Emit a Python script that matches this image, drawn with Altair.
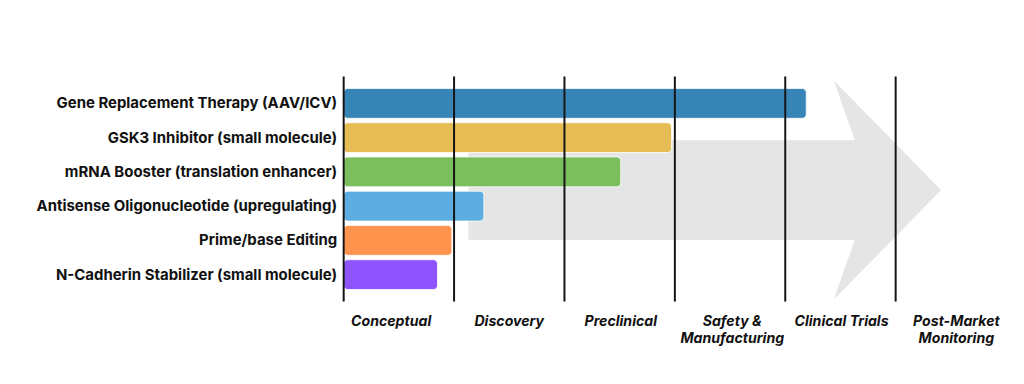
import altair as alt
import pandas as pd

therapies = [
    "Gene Replacement Therapy (AAV/ICV)",
    "GSK3 Inhibitor (small molecule)",
    "mRNA Booster (translation enhancer)",
    "Antisense Oligonucleotide (upregulating)",
    "Prime/base Editing",
    "N-Cadherin Stabilizer (small molecule)",
]
progress = [4.19, 2.97, 2.51, 1.27, 0.98, 0.85]
colors = ["#3784b7", "#e6bc55", "#7bbe5e", "#5eade0", "#ff944f", "#9054ff"]

stages = ["Conceptual", "Discovery", "Preclinical", "Safety &\nManufacturing",
          "Clinical Trials", "Post-Market\nMonitoring"]
stage_mid = [0.43, 1.5, 2.51, 3.52, 4.51, 5.55]
boundaries = [0, 1, 2, 3, 4, 5]

# background arrow (data units: x in stages, y as fraction of plot height from top)
shaft_x, shaft_x2 = 1.13, 4.64
shaft_y, shaft_y2 = 0.283, 0.726
head_y = [0.018, 0.283, 0.504, 0.726, 0.991]
head_x = [4.44, 4.63, 4.63, 4.63, 4.44]
head_x2 = [4.44, 4.97, 5.41, 4.97, 4.44]

W, H = 665, 226
FONT = "Inter"

xscale = alt.Scale(domain=[0, 6], nice=False, zero=False)
yq = alt.Scale(domain=[0, 1], reverse=True, nice=False, zero=False)

bars_df = pd.DataFrame({"therapy": therapies, "progress": progress, "color": colors, "start": 0})
shaft_df = pd.DataFrame({"sx": [shaft_x], "sx2": [shaft_x2], "sy": [shaft_y], "sy2": [shaft_y2]})
head_df = pd.DataFrame({"hy": head_y, "hx": head_x, "hx2": head_x2})
rules_df = pd.DataFrame({"b": boundaries})
stage_df = pd.DataFrame({"stage": stages, "mid": stage_mid})

shaft = alt.Chart(shaft_df).mark_rect(color="#e5e5e5").encode(
    x=alt.X("sx:Q", scale=xscale, axis=None), x2="sx2:Q",
    y=alt.Y("sy:Q", scale=yq, axis=None), y2="sy2:Q",
)
head = alt.Chart(head_df).mark_area(orient="horizontal", color="#e5e5e5", opacity=1).encode(
    y=alt.Y("hy:Q", scale=yq, axis=None),
    x=alt.X("hx:Q", scale=xscale, axis=None, stack=False), x2="hx2:Q",
)

bars = alt.Chart(bars_df).mark_bar(cornerRadiusEnd=4, stroke="white", strokeWidth=0.8).encode(
    y=alt.Y("therapy:N", sort=therapies,
            scale=alt.Scale(paddingInner=0.128, paddingOuter=0.35),
            axis=alt.Axis(title=None, ticks=False, domain=False, grid=False, labelFont=FONT,
                          labelFontWeight="bold", labelFontSize=15, labelColor="#111",
                          labelPadding=7, labelLimit=400)),
    x=alt.X("start:Q", scale=xscale, axis=None), x2="progress:Q",
    color=alt.Color("color:N", scale=None),
)

rules = alt.Chart(rules_df).mark_rule(color="#151515", strokeWidth=2).encode(
    x=alt.X("b:Q", scale=xscale, axis=None),
)

labels = alt.Chart(stage_df).mark_text(
    font=FONT, fontStyle="italic", fontWeight="bold", fontSize=14.2, color="#111",
    baseline="top", align="center", lineBreak="\n", lineHeight=17,
).encode(
    x=alt.X("mid:Q", scale=xscale, axis=None),
    y=alt.value(H + 14),
    text="stage:N",
)

chart = alt.layer(shaft, head, bars, rules, labels).resolve_scale(y="independent").properties(
    width=W, height=H,
    background="white",
    autosize=alt.AutoSizeParams(type="none"),
    padding={"left": 337, "top": 68, "right": 10, "bottom": 70},
).configure_view(stroke="transparent", strokeWidth=0).configure_axis(grid=False)

chart.save("out.html", embed_options={"renderer": "svg", "actions": False})
